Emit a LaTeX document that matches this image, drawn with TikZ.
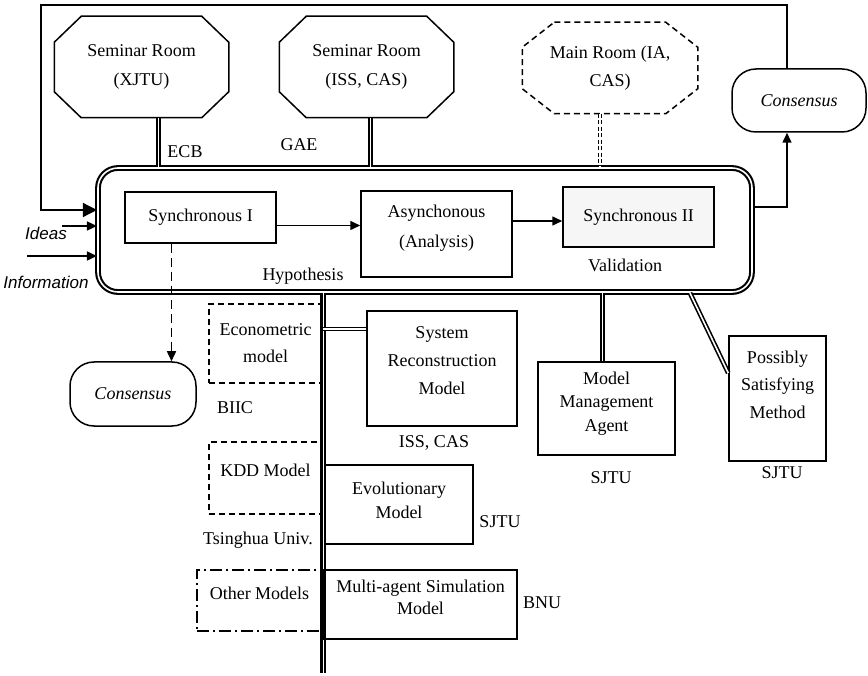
\documentclass[tikz,border=0pt]{standalone}
\usepackage{fontspec}
\setmainfont{Liberation Serif}
\newfontfamily\ideasfont{Liberation Sans}
\usetikzlibrary{arrows.meta}
\newcommand{\octdraw}[4][]{%
  \draw[#1] ([xshift=#3]#2.north west) -- ([xshift=-#3]#2.north east)
    -- ([yshift=-#4]#2.north east) -- ([yshift=#4]#2.south east)
    -- ([xshift=-#3]#2.south east) -- ([xshift=#3]#2.south west)
    -- ([yshift=#4]#2.south west) -- ([yshift=-#4]#2.north west) -- cycle;}
\begin{document}
\begin{tikzpicture}[x=1pt,y=-1pt,line width=1.5pt,
  every node/.style={inner sep=0pt, font=\fontsize{18}{27}\selectfont},
  box/.style={draw, rectangle},
  txt/.style={align=center},
  dbl/.style={double, line width=1.6pt, double distance=1.6pt},
  busline/.style={double, line width=2.1pt, double distance=1pt},
  mainframe/.style={draw, double, line width=2.1pt, double distance=1.6pt, rounded corners=20pt},
  cons/.style={draw, rounded corners=24pt, font=\fontsize{18}{22}\selectfont\itshape},
  dashbox/.style={draw, dash pattern=on 6pt off 4pt},
  dotbox/.style={draw, dash pattern=on 12pt off 4pt on 2pt off 4pt},
  arr/.style={-{Triangle[length=10pt,width=9pt]}},
  bigarr/.style={-{Triangle[length=14pt,width=14pt]}},
  sansit/.style={font=\fontsize{17}{18}\selectfont\ideasfont\itshape}
]
\useasboundingbox (0,0) rectangle (868,676);

% rooms
\node[minimum width=173pt, minimum height=100pt, txt, font=\fontsize{18}{29}\selectfont] (semx) at (141.5,67) {Seminar Room\\(XJTU)};
\octdraw{semx}{27pt}{26pt}
\node[minimum width=173pt, minimum height=100pt, txt, font=\fontsize{18}{29}\selectfont] (semi) at (366.5,67) {Seminar Room\\(ISS, CAS)};
\octdraw{semi}{27pt}{26pt}
\node[minimum width=174pt, minimum height=90pt, txt, font=\fontsize{18}{28}\selectfont] (mainrm) at (610,68) {Main Room (IA,\\CAS)};
\octdraw[dash pattern=on 6pt off 4pt]{mainrm}{32pt}{25pt}

% main frame
\node[mainframe, minimum width=654pt, minimum height=124pt] (main) at (425,230) {};

\node[box, minimum width=151pt, minimum height=51pt] (s1) at (200.5,217.5) {Synchronous I};
\node[box, minimum width=151pt, minimum height=86pt] (as) at (436.5,234) {};
\node[txt, font=\fontsize{18}{30}\selectfont] (astxt) at ([yshift=6pt]as.center) {Asynchonous\\(Analysis)};
\node[box, fill=gray!7, minimum width=151pt, minimum height=60pt] (s2) at (638.5,217) {Synchronous II};

\node (hyp) at (303,276) {Hypothesis};
\node (val) at (625,265) {Validation};
\node (ecb) at (185,152) {ECB};
\node (gae) at (299,145) {GAE};

\draw[arr] ([yshift=-8pt]s1.east) -- ([yshift=-8pt]s1.east -| as.west);
\draw[arr] ([yshift=13pt]as.east) -- ([yshift=13pt]as.east -| s2.west);

% room connectors
\draw[dbl] ([xshift=17pt]semx.south) -- ([xshift=17pt]semx.south |- main.north);
\draw[dbl] ([xshift=4pt]semi.south) -- ([xshift=4pt]semi.south |- main.north);
\draw[dbl, dash pattern=on 4pt off 2.5pt] ([xshift=-10pt]mainrm.south) -- ([xshift=-10pt]mainrm.south |- main.north);

% consensus nodes
\node[cons, minimum width=134pt, minimum height=63pt] (cr) at (799,100.5) {Consensus};
\node[cons, minimum width=126pt, minimum height=64pt] (cl) at (133,394) {Consensus};

\coordinate (tl) at (41,5);
\draw[bigarr] ([xshift=-12pt]cr.north) |- (tl) |- ([yshift=20pt]main.west);
\draw[arr] ([yshift=23pt]main.east) -| ([xshift=-12pt]cr.south);

% inputs
\coordinate (ideas) at (62,226);
\coordinate (info) at (27,256);
\draw[arr] (ideas) -- (ideas -| main.west);
\draw[arr] (info) -- (info -| main.west);
\node[sansit] (ideastxt) at (46,233) {Ideas};
\node[sansit] (infotxt) at (46,282) {Information};

\draw[arr, dash pattern=on 9pt off 5pt] ([xshift=-29pt]s1.south) -- ([xshift=-29pt]s1.south |- cl.north);

% left dashed model boxes
\node[dashbox, minimum width=113pt, minimum height=79pt, txt] (eco) at (265.5,343.5) {Econometric\\model};
\node (biic) at (235,408) {BIIC};
\node[dashbox, minimum width=113pt, minimum height=72pt] (kdd) at (265.5,478) {};
\node (kddtxt) at ([yshift=8pt]kdd.center) {KDD Model};
\node (tsu) at (258,540) {Tsinghua Univ.};
\node[dotbox, minimum width=125pt, minimum height=61pt] (oth) at (259.5,600.5) {};
\node (othtxt) at ([yshift=7pt]oth.center) {Other Models};

% bus
\coordinate (busb) at (323,673);
\draw[busline] (main.south -| busb) -- (busb);

% right model boxes
\node[box, minimum width=150pt, minimum height=115pt] (srm) at (442,368.5) {};
\node[txt, font=\fontsize{18}{28}\selectfont] (srmtxt) at ([yshift=7.5pt]srm.center) {System\\Reconstruction\\Model};
\draw[dbl] ([yshift=39.5pt]srm.west) -- ([yshift=39.5pt]srm.west -| busb);
\node (isscas) at (434,443) {ISS, CAS};

\node[box, minimum width=148pt, minimum height=79pt] (evo) at (399,504.5) {};
\node[txt, font=\fontsize{18}{24}\selectfont] (evotxt) at ([yshift=4.5pt]evo.center) {Evolutionary\\Model};
\node (sjtu1) at (500,522) {SJTU};

\node[box, minimum width=193pt, minimum height=69pt] (mas) at (420.5,604.5) {};
\node[txt, font=\fontsize{18}{22}\selectfont] (mastxt) at ([yshift=7.5pt]mas.center) {Multi-agent Simulation\\Model};
\node (bnu) at (542,603) {BNU};

\node[box, minimum width=137pt, minimum height=93pt] (mma) at (606.5,408.5) {};
\node[txt, font=\fontsize{18}{23.5}\selectfont] (mmatxt) at ([yshift=5pt]mma.center) {Model\\Management\\Agent};
\draw[dbl] ([xshift=-4pt]mma.north) -- ([xshift=-4pt]mma.north |- main.south);
\node (sjtu2) at (611,478) {SJTU};

\node[box, minimum width=97pt, minimum height=125pt] (psm) at (777.5,398.5) {};
\node[txt, font=\fontsize{18}{27.5}\selectfont] (psmtxt) at ([yshift=14pt]psm.center) {Possibly\\Satisfying\\Method};
\draw[dbl] ([xshift=265pt]main.south) -- ([yshift=25.5pt]psm.west);
\node (sjtu3) at (782,473) {SJTU};
\end{tikzpicture}
\end{document}
